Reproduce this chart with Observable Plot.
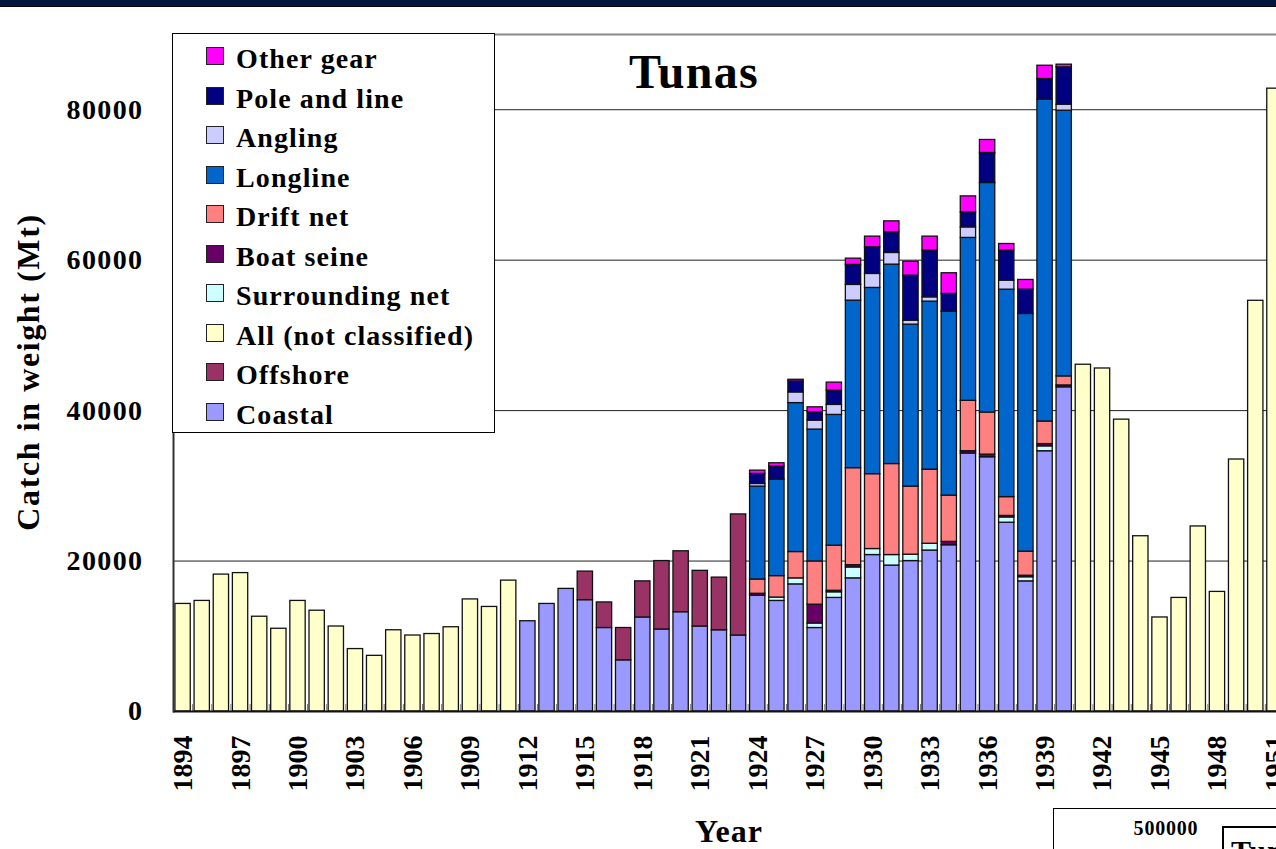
<!DOCTYPE html>
<html>
<head>
<meta charset="utf-8">
<script src="https://cdn.jsdelivr.net/npm/d3@7"></script>
<script src="https://cdn.jsdelivr.net/npm/@observablehq/plot@0.6"></script>
<style>
html,body{margin:0;padding:0;background:#fff;}
#page{position:relative;width:1276px;height:849px;overflow:hidden;font-family:"Liberation Serif","Times New Roman",serif;font-weight:bold;color:#000;}
#band{position:absolute;left:0;top:0;width:1276px;height:6px;background:#00163f;border-bottom:1px solid #000;z-index:5;}
#chart{position:absolute;left:0;top:0;width:1304px;height:849px;}
#chart svg{max-width:none !important;width:1304px;height:849px;}
#chart g[aria-label="y-axis tick label"] text{letter-spacing:1.4px;}
.abs{position:absolute;white-space:nowrap;line-height:1;}
#ytitle{left:28px;top:372px;transform:translate(-50%,-50%) rotate(-90deg);font-size:32px;letter-spacing:1.6px;}
#xtitle{left:729px;top:831px;transform:translate(-50%,-50%);font-size:32px;letter-spacing:1px;}
#title{left:694px;top:72px;transform:translate(-50%,-50%);font-size:48px;letter-spacing:1.3px;}
#legend{position:absolute;left:172px;top:33px;width:323px;height:400px;border:1px solid #000;background:#fff;box-sizing:border-box;}
.sw{position:absolute;left:33px;width:18px;height:18px;box-sizing:border-box;border:1px solid #222;}
.lt{position:absolute;left:63px;font-size:28px;letter-spacing:1.1px;line-height:28px;white-space:nowrap;}
#inset1{position:absolute;left:1053px;top:808px;width:400px;height:120px;border:1px solid #000;background:#fff;}
#inset2{position:absolute;left:1222px;top:826px;width:200px;height:120px;border:2px solid #000;background:#fff;}
#insetnum{left:1166px;top:828px;transform:translate(-50%,-50%);font-size:20px;letter-spacing:0.8px;}
#insettitle{left:1231px;top:836px;font-size:30px;letter-spacing:1px;}
</style>
</head>
<body>
<div id="page">
  <div id="band"></div>
  <div id="chart"></div>
  <div id="legend"></div>
  <div class="abs" id="title">Tunas</div>
  <div class="abs" id="ytitle">Catch in weight (Mt)</div>
  <div class="abs" id="xtitle">Year</div>
  <div id="inset1"></div>
  <div class="abs" id="insetnum">500000</div>
  <div id="inset2"></div>
  <div class="abs" id="insettitle">Tunas</div>
</div>
<script>
// ---- categories ----
const years = [
  1894,1895,1896,1897,1898,1899,
  1900,1901,1902,1903,1904,1905,1906,1907,1908,1909,
  1910,1911,1912,1913,1914,1915,1916,1917,1918,1919,
  1920,1921,1922,1923,1924,1925,1926,1927,1928,1929,
  1930,1931,1932,1933,1934,1935,1936,1937,1938,1939,
  1940,1941,1942,1943,1944,1945,1946,1947,1948,1949,
  1950,1951
];
const xTickYears = [1894,1897,1900,1903,1906,1909,1912,1915,1918,1921,1924,1927,1930,1933,1936,1939,1942,1945,1948,1951];
const yTicks = [0,20000,40000,60000,80000];
const gridValues = [20000,40000,60000,80000];
const yMax = 90000;

// ---- series (catch, Mt), one value per year 1894..1951 ----
const allNotClassified = [
  14300,14700,18200,18400,12600,11000,
  14700,13400,11300,8300,7400,10800,10100,10300,11200,14900,
  13900,17400,0,0,0,0,0,0,0,0,
  0,0,0,0,0,0,0,0,0,0,
  0,0,0,0,0,0,0,0,0,0,
  0,46100,45600,38800,23300,12500,15100,24600,15900,33500,
  54600,82800
];
const coastal = [
  0,0,0,0,0,0,
  0,0,0,0,0,0,0,0,0,0,
  0,0,12000,14300,16300,14800,11100,6800,12500,10900,
  13200,11300,10800,10100,15400,14700,16900,11100,15100,17700,
  20800,19400,20000,21400,22100,34300,33800,25100,17300,34600,
  43100,0,0,0,0,0,0,0,0,0,
  0,0
];
const offshore = [
  0,0,0,0,0,0,
  0,0,0,0,0,0,0,0,0,0,
  0,0,0,0,0,3800,3400,4300,4800,9100,
  8100,7400,7000,16100,0,0,0,0,0,0,
  0,0,0,0,0,0,0,0,0,0,
  0,0,0,0,0,0,0,0,0,0,
  0,0
];
const surroundingNet = [
  0,0,0,0,0,0,
  0,0,0,0,0,0,0,0,0,0,
  0,0,0,0,0,0,0,0,0,0,
  0,0,0,0,0,450,800,600,750,1450,
  800,1400,850,900,0,0,0,700,550,650,
  0,0,0,0,0,0,0,0,0,0,
  0,0
];
const boatSeine = [
  0,0,0,0,0,0,
  0,0,0,0,0,0,0,0,0,0,
  0,0,0,0,0,0,0,0,0,0,
  0,0,0,0,250,0,0,2500,200,300,
  0,0,0,0,450,300,350,200,200,300,
  250,0,0,0,0,0,0,0,0,0,
  0,0
];
const driftNet = [
  0,0,0,0,0,0,
  0,0,0,0,0,0,0,0,0,0,
  0,0,0,0,0,0,0,0,0,0,
  0,0,0,0,1900,2850,3500,5750,6000,12900,
  9950,12100,9050,9850,6150,6700,5600,2500,3200,3000,
  1200,0,0,0,0,0,0,0,0,0,
  0,0
];
const longline = [
  0,0,0,0,0,0,
  0,0,0,0,0,0,0,0,0,0,
  0,0,0,0,0,0,0,0,0,0,
  0,0,0,0,12350,12830,19800,17530,17380,22270,
  24760,26510,21530,22340,24460,21660,30510,27580,31600,42790,
  35320,0,0,0,0,0,0,0,0,0,
  0,0
];
const angling = [
  0,0,0,0,0,0,
  0,0,0,0,0,0,0,0,0,0,
  0,0,0,0,0,0,0,0,0,0,
  0,0,0,0,350,0,1420,1190,1330,2090,
  1860,1550,530,570,0,1400,0,1200,0,0,
  800,0,0,0,0,0,0,0,0,0,
  0,0
];
const poleAndLine = [
  0,0,0,0,0,0,
  0,0,0,0,0,0,0,0,0,0,
  0,0,0,0,0,0,0,0,0,0,
  0,0,0,0,1330,1730,1460,1110,1900,2660,
  3540,2740,5980,6210,2350,2000,3990,3990,3230,2740,
  4960,0,0,0,0,0,0,0,0,0,
  0,0
];
const otherGear = [
  0,0,0,0,0,0,
  0,0,0,0,0,0,0,0,0,0,
  0,0,0,0,0,0,0,0,0,0,
  0,0,0,0,440,440,220,660,1060,830,
  1420,1460,1860,1860,2750,2120,1730,880,1290,1770,
  360,0,0,0,0,0,0,0,0,0,
  0,0
];

// stacking order (bottom to top)
const stackOrder = ["Coastal","Offshore","All (not classified)","Surrounding net","Boat seine","Drift net","Longline","Angling","Pole and line","Other gear"];
const seriesValues = [coastal, offshore, allNotClassified, surroundingNet, boatSeine, driftNet, longline, angling, poleAndLine, otherGear];
const seriesColors = ["#9999ff","#993366","#ffffcc","#ccffff","#660066","#ff8080","#0066cc","#ccccff","#000080","#ff00ff"];
// legend order (top to bottom)
const legendOrder = ["Other gear","Pole and line","Angling","Longline","Drift net","Boat seine","Surrounding net","All (not classified)","Offshore","Coastal"];

const table = [];
stackOrder.forEach((name, s) => {
  seriesValues[s].forEach((v, i) => {
    if (v > 0) table.push({year: years[i], series: name, value: v});
  });
});

const step = 19.16;
const chart = Plot.plot({
  width: 1304,
  height: 849,
  marginLeft: 173,
  marginRight: 20,
  marginTop: 34,
  marginBottom: 138,
  style: {fontFamily: "'Liberation Serif','Times New Roman',serif", fontWeight: "bold", fontSize: "28px", color: "#000", background: "transparent", overflow: "visible", maxWidth: "none"},
  x: {type: "band", domain: years, paddingInner: 0.2, paddingOuter: 0.1, round: false},
  y: {domain: [0, yMax]},
  color: {domain: stackOrder, range: seriesColors},
  marks: [
    Plot.ruleY(gridValues, {stroke: "#222", strokeWidth: 1}),
    Plot.ruleY([yMax], {stroke: "#888", strokeWidth: 2}),
    Plot.barY(table, {x: "year", y: "value", fill: "series", z: "series", order: stackOrder, stroke: "#111", strokeWidth: 1.3}),
    Plot.axisX({ticks: years, tickSize: -7, dx: -step / 2, stroke: "#777", tickFormat: () => "", label: null}),
    Plot.ruleY([0], {stroke: "#111", strokeWidth: 2}),
    Plot.frame({anchor: "left", stroke: "#333", strokeWidth: 2}),
    Plot.axisX({ticks: xTickYears, tickSize: 0, tickPadding: 24, tickRotate: -90, tickFormat: d => String(d), fontSize: 28, fontWeight: "bold", label: null}),
    Plot.axisY({ticks: yTicks, tickSize: 0, tickPadding: 30, tickFormat: d => String(d), fontSize: 28, fontWeight: "bold", label: null})
  ]
});
document.getElementById("chart").appendChild(chart);

// legend
const legend = document.getElementById("legend");
legendOrder.forEach((name, i) => {
  const sw = document.createElement("div");
  sw.className = "sw";
  sw.style.top = (13 + i * 39.5) + "px";
  sw.style.background = seriesColors[stackOrder.indexOf(name)];
  legend.appendChild(sw);
  const t = document.createElement("div");
  t.className = "lt";
  t.style.top = (11 + i * 39.5) + "px";
  t.textContent = name;
  legend.appendChild(t);
});
</script>
</body>
</html>
